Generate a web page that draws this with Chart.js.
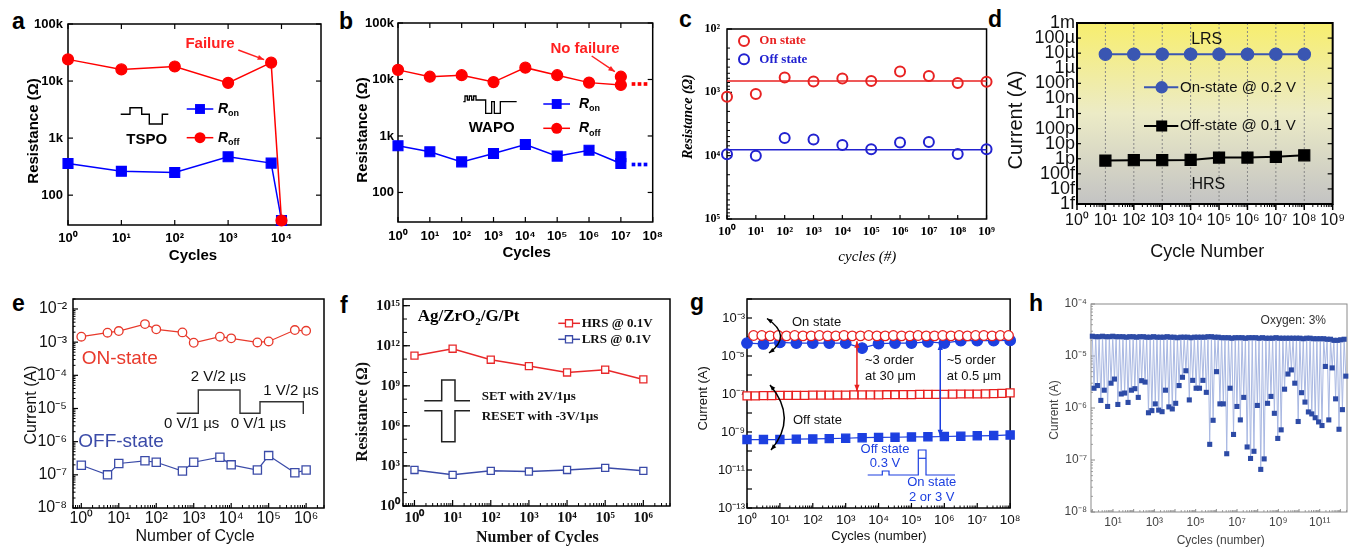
<!DOCTYPE html>
<html><head><meta charset="utf-8">
<script src="https://cdn.jsdelivr.net/npm/chart.js"></script>
<style>
html,body{margin:0;padding:0;background:#fff;}
body{width:1352px;height:548px;position:relative;overflow:hidden;}
.pn{position:absolute;}
.lt{position:absolute;font:bold 23px Arial,'Liberation Sans',sans-serif;color:#000;line-height:23px;}
</style></head><body>
<div class="lt" style="left:12px;top:10px">a</div>
<div class="lt" style="left:339px;top:10px">b</div>
<div class="lt" style="left:679px;top:8px">c</div>
<div class="lt" style="left:988px;top:8px">d</div>
<div class="lt" style="left:12px;top:292px">e</div>
<div class="lt" style="left:340px;top:294px">f</div>
<div class="lt" style="left:690px;top:291px">g</div>
<div class="lt" style="left:1029px;top:292px">h</div>
<script>
const SANS = "Arial, 'Liberation Sans', Helvetica, sans-serif";
const SERIF = "'Times New Roman', 'Liberation Serif', Times, serif";

// ===== (a) TSPO =====
const aCycles = [1, 10, 100, 1000, 6400, 10000];
const aRon  = [360, 262, 250, 470, 365, 36];
const aRoff = [24000, 16000, 18000, 9300, 21000, 36];
const aXTicks = [1, 10, 100, 1000, 10000];
const aXLabels = ['10⁰','10¹','10²','10³','10⁴'];
const aYTicks = [100, 1000, 10000, 100000];
const aYLabels = ['100','1k','10k','100k'];

// ===== (b) WAPO =====
const bCycles = [1, 10, 100, 1e3, 1e4, 1e5, 1e6, 1e7, 1e7];
const bRon  = [670, 525, 348, 490, 705, 440, 560, 325, 430];
const bRoff = [14800, 11200, 11900, 9000, 16200, 11900, 8800, 8000, 11200];
const bXTicks = [1,10,100,1e3,1e4,1e5,1e6,1e7,1e8];
const bXLabels = ['10⁰','10¹','10²','10³','10⁴','10⁵','10⁶','10⁷','10⁸'];

// ===== (c) =====
const cCycles = [1,10,1e2,1e3,1e4,1e5,1e6,1e7,1e8,1e9];
const cOn  = [1170, 1060, 585, 675, 605, 660, 470, 550, 715, 680];
const cOff = [9500, 10000, 5270, 5560, 6800, 7950, 6200, 6100, 9400, 7950];
const cFitX = [1, 1e9];
const cOnFit = [660, 660];
const cOffFit = [8100, 8100];
const cXLabels = ['10⁰','10¹','10²','10³','10⁴','10⁵','10⁶','10⁷','10⁸','10⁹'];
const cYTicks = [100, 1e3, 1e4, 1e5];
const cYLabels = ['10²','10³','10⁴','10⁵'];

// ===== (d) =====
const dCycles = [1e1,1e2,1e3,1e4,1e5,1e6,1e7,1e8];
const dOn  = [8.5e-6, 8.5e-6, 8.5e-6, 8.5e-6, 8.5e-6, 8.5e-6, 8.5e-6, 8.5e-6];
const dOff = [7.6e-13, 8e-13, 8e-13, 8.3e-13, 1.2e-12, 1.2e-12, 1.35e-12, 1.7e-12];
const dXTicks = [1,10,1e2,1e3,1e4,1e5,1e6,1e7,1e8,1e9];
const dYTicks = [1e-3,1e-4,1e-5,1e-6,1e-7,1e-8,1e-9,1e-10,1e-11,1e-12,1e-13,1e-14,1e-15];
const dYLabels = ['1m','100µ','10µ','1µ','100n','10n','1n','100p','10p','1p','100f','10f','1f'];

// ===== (e) =====
const eCycles = [1, 5, 10, 50, 100, 500, 1000, 5000, 1e4, 5e4, 1e5, 5e5, 1e6];
const eOn  = [1.46e-3, 1.93e-3, 2.16e-3, 3.5e-3, 2.43e-3, 1.97e-3, 0.96e-3, 1.46e-3, 1.3e-3, 0.98e-3, 1.05e-3, 2.32e-3, 2.2e-3];
const eOff = [1.95e-7, 1.0e-7, 2.2e-7, 2.65e-7, 2.4e-7, 1.3e-7, 2.4e-7, 3.4e-7, 2.0e-7, 1.4e-7, 3.8e-7, 1.15e-7, 1.4e-7];
const eXTicks = [1,10,100,1e3,1e4,1e5,1e6];
const eXLabels = ['10⁰','10¹','10²','10³','10⁴','10⁵','10⁶'];
const eYTicks = [1e-8,1e-7,1e-6,1e-5,1e-4,1e-3,1e-2];
const eYLabels = ['10⁻⁸','10⁻⁷','10⁻⁶','10⁻⁵','10⁻⁴','10⁻³','10⁻²'];

// ===== (f) =====
const fCycles = [1, 10, 100, 1e3, 1e4, 1e5, 1e6];
const fHRS = [1.8e11, 6e11, 9e10, 3e10, 1e10, 1.6e10, 3e9];
const fLRS = [500, 215, 430, 380, 500, 720, 430];
const fYTicks = [1, 1e3, 1e6, 1e9, 1e12, 1e15];
const fYLabels = ['10⁰','10³','10⁶','10⁹','10¹²','10¹⁵'];

// ===== (g) =====
const gRedOnExp  = [0.2,0.45,0.7,0.95,1.2,1.45,1.7,1.95,2.2,2.45,2.7,2.95,3.2,3.45,3.7,3.95,4.2,4.45,4.7,4.95,5.2,5.45,5.7,5.95,6.2,6.45,6.7,6.95,7.2,7.45,7.7,7.95];
const gRedOn = [1.2e-4,1.2e-4,1.15e-4,1.2e-4,1.15e-4,1.2e-4,1.15e-4,1.15e-4,1.2e-4,1.15e-4,1.15e-4,1.2e-4,1.15e-4,1.15e-4,1.2e-4,1.15e-4,1.15e-4,1.2e-4,1.15e-4,1.15e-4,1.2e-4,1.15e-4,1.15e-4,1.2e-4,1.15e-4,1.2e-4,1.15e-4,1.2e-4,1.2e-4,1.15e-4,1.2e-4,1.2e-4];
const gRedOffExp = [0,0.25,0.5,0.75,1,1.25,1.5,1.75,2,2.25,2.5,2.75,3,3.25,3.5,3.75,4,4.25,4.5,4.75,5,5.25,5.5,5.75,6,6.25,6.5,6.75,7,7.25,7.5,7.75,8];
const gRedOff = [8e-8,8e-8,8.2e-8,8.2e-8,8.5e-8,8.5e-8,8.5e-8,8.5e-8,8.7e-8,8.7e-8,8.7e-8,8.8e-8,8.8e-8,9e-8,9e-8,9e-8,9e-8,9.2e-8,9.2e-8,9.3e-8,9.3e-8,9.5e-8,9.5e-8,9.5e-8,9.7e-8,9.8e-8,1e-7,1e-7,1e-7,1.02e-7,1.05e-7,1.08e-7,1.15e-7];
const gBlueExp = [0,0.5,1,1.5,2,2.5,3,3.5,4,4.5,5,5.5,6,6.5,7,7.5,8];
const gBlueOn  = [4.8e-5,4.3e-5,5.2e-5,4.8e-5,4.8e-5,4.8e-5,4.8e-5,2.6e-5,4.5e-5,4.8e-5,4.8e-5,5.5e-5,4.8e-5,6.4e-5,6.4e-5,6.4e-5,6.6e-5];
const gBlueOff = [4e-10,4e-10,4e-10,4.2e-10,4.3e-10,4.5e-10,4.7e-10,5e-10,5.2e-10,5.3e-10,5.5e-10,5.6e-10,5.8e-10,6e-10,6.3e-10,6.5e-10,7e-10];
const gXTicks = [1,10,100,1e3,1e4,1e5,1e6,1e7,1e8];
const gXLabels = ['10⁰','10¹','10²','10³','10⁴','10⁵','10⁶','10⁷','10⁸'];
const gYTicks = [1e-13,1e-11,1e-9,1e-7,1e-5,1e-3];
const gYLabels = ['10⁻¹³','10⁻¹¹','10⁻⁹','10⁻⁷','10⁻⁵','10⁻³'];

// ===== (h) =====
const hStepExp = 0.1646;   // spacing of sampled cycles (decades)
const hOn = [2.4e-5,2.35e-5,2.35e-5,2.4e-5,2.35e-5,2.35e-5,2.4e-5,2.35e-5,2.35e-5,2.35e-5,
 2.3e-5,2.35e-5,2.35e-5,2.3e-5,2.35e-5,2.35e-5,2.3e-5,2.3e-5,2.35e-5,2.3e-5,
 2.3e-5,2.3e-5,2.35e-5,2.3e-5,2.3e-5,2.25e-5,2.3e-5,2.3e-5,2.3e-5,2.25e-5,
 2.3e-5,2.3e-5,2.3e-5,2.3e-5,2.35e-5,2.35e-5,2.3e-5,2.3e-5,2.25e-5,2.25e-5,
 2.25e-5,2.2e-5,2.25e-5,2.25e-5,2.25e-5,2.2e-5,2.25e-5,2.25e-5,2.25e-5,2.2e-5,
 2.25e-5,2.2e-5,2.2e-5,2.2e-5,2.25e-5,2.2e-5,2.2e-5,2.2e-5,2.2e-5,2.2e-5,
 2.2e-5,2.2e-5,2.15e-5,2.2e-5,2.2e-5,2.15e-5,2.15e-5,2.15e-5,2.15e-5,2.1e-5,
 2.1e-5,2.0e-5,2.0e-5,2.05e-5,2.1e-5];
const hOff = [2.4e-6,2.7e-6,1.4e-6,2.2e-6,1.07e-6,3.0e-6,3.6e-6,1.17e-6,1.86e-6,1.94e-6,
 1.28e-6,2.2e-6,2.35e-6,1.6e-6,3.35e-6,3.15e-6,8.1e-7,8.9e-7,1.2e-6,9.1e-7,
 8.5e-7,2.2e-6,1.05e-6,9.6e-7,1.23e-6,2.7e-6,3.9e-6,5.2e-6,1.43e-6,3.4e-6,
 2.4e-6,2.4e-6,3.4e-6,2.0e-6,2.0e-7,5.8e-7,5.0e-6,1.2e-6,1.2e-6,1.32e-7,
 2.4e-6,3.1e-7,1.07e-6,5.9e-7,1.6e-6,1.78e-7,1.07e-7,1.47e-7,1.12e-6,6.6e-8,
 1.05e-7,1.23e-6,1.67e-6,7.9e-7,2.6e-7,3.8e-7,2.3e-6,4.5e-6,5.4e-6,3.0e-6,
 5.5e-7,1.97e-6,1.3e-6,8.4e-7,7.7e-7,6.5e-7,5.4e-7,4.6e-7,6.3e-6,5.9e-7,
 5.9e-6,1.5e-6,3.9e-7,9.3e-7,4.1e-6];
const hXTicks = [10,1e3,1e5,1e7,1e9,1e11];
const hXLabels = ['10¹','10³','10⁵','10⁷','10⁹','10¹¹'];
const hYTicks = [1e-8,1e-7,1e-6,1e-5,1e-4];
const hYLabels = ['10⁻⁸','10⁻⁷','10⁻⁶','10⁻⁵','10⁻⁴'];

// ===== helpers =====
function pts(xs, ys){ return xs.map((x,i)=>({x:x, y:ys[i]})); }
function ds(xs, ys, o){ return Object.assign({data:pts(xs,ys), clip:false, tension:0, showLine:true, borderWidth:1.5, pointRadius:5, pointBorderWidth:1.2, pointHoverRadius:0}, o); }
function decades(lo, hi){ const r=[]; for(let d=Math.floor(Math.log10(lo)); d<=Math.ceil(Math.log10(hi)); d++){ const v=Math.pow(10,d); if(v>=lo*0.999 && v<=hi*1.001) r.push(v);} return r; }
function minors(lo, hi){ const r=[]; for(let d=Math.floor(Math.log10(lo)); d<=Math.ceil(Math.log10(hi)); d++){ for(let m=2;m<=9;m++){ const v=m*Math.pow(10,d); if(v>=lo && v<=hi) r.push(v);} } return r; }

function G(chart, L, T){
  const ctx = chart.ctx;
  const X = v => v - L, Y = v => v - T;
  return {
    ctx,
    dx: v => chart.scales.x.getPixelForValue(v) + L,
    dy: v => chart.scales.y.getPixelForValue(v) + T,
    text(s, x, y, font, color, align, rot, baseline){
      ctx.save(); ctx.font=font; ctx.fillStyle=color||'#000'; ctx.textAlign=align||'left'; ctx.textBaseline=baseline||'middle';
      ctx.translate(X(x), Y(y)); if(rot) ctx.rotate(rot*Math.PI/180); ctx.fillText(s,0,0); ctx.restore();
    },
    rich(parts, x, y, align){
      ctx.save(); ctx.textBaseline='middle'; ctx.textAlign='left'; let w=0;
      parts.forEach(p=>{ctx.font=p[1]; w+=ctx.measureText(p[0]).width;});
      let cx = X(x) - (align==='center'? w/2 : 0);
      parts.forEach(p=>{ctx.font=p[1]; ctx.fillStyle=p[3]||'#000'; ctx.fillText(p[0], cx, Y(y)+(p[2]||0)); cx+=ctx.measureText(p[0]).width;});
      ctx.restore();
    },
    line(x1,y1,x2,y2,color,lw,dash){
      ctx.save(); ctx.strokeStyle=color; ctx.lineWidth=lw||1; if(dash) ctx.setLineDash(dash);
      ctx.beginPath(); ctx.moveTo(X(x1),Y(y1)); ctx.lineTo(X(x2),Y(y2)); ctx.stroke(); ctx.restore();
    },
    poly(p, color, lw){
      ctx.save(); ctx.strokeStyle=color; ctx.lineWidth=lw||1; ctx.lineJoin='miter'; ctx.beginPath();
      p.forEach((q,i)=> i? ctx.lineTo(X(q[0]),Y(q[1])) : ctx.moveTo(X(q[0]),Y(q[1]))); ctx.stroke(); ctx.restore();
    },
    marker(style, x, y, r, fill, stroke, lw){
      ctx.save(); ctx.beginPath();
      if(style==='circle') ctx.arc(X(x),Y(y),r,0,Math.PI*2);
      else { const s=r*Math.SQRT1_2; ctx.rect(X(x)-s, Y(y)-s, 2*s, 2*s); }
      if(fill){ctx.fillStyle=fill; ctx.fill();}
      if(stroke){ctx.strokeStyle=stroke; ctx.lineWidth=lw||1.5; ctx.stroke();}
      ctx.restore();
    },
    head(x, y, ang, color, hl){
      ctx.save(); ctx.fillStyle=color; ctx.beginPath();
      ctx.moveTo(X(x),Y(y));
      ctx.lineTo(X(x)-hl*Math.cos(ang-0.38), Y(y)-hl*Math.sin(ang-0.38));
      ctx.lineTo(X(x)-hl*Math.cos(ang+0.38), Y(y)-hl*Math.sin(ang+0.38));
      ctx.closePath(); ctx.fill(); ctx.restore();
    },
    arrow(x1,y1,x2,y2,color,lw,hl,both){
      this.line(x1,y1,x2,y2,color,lw);
      this.head(x2,y2,Math.atan2(y2-y1,x2-x1),color,hl);
      if(both) this.head(x1,y1,Math.atan2(y1-y2,x1-x2),color,hl);
    },
    curve(x1,y1,cx,cy,x2,y2,color,lw,hl){
      ctx.save(); ctx.strokeStyle=color; ctx.lineWidth=lw; ctx.beginPath();
      ctx.moveTo(X(x1),Y(y1)); ctx.quadraticCurveTo(X(cx),Y(cy),X(x2),Y(y2)); ctx.stroke(); ctx.restore();
      this.head(x1,y1,Math.atan2(y1-cy,x1-cx),color,hl);
      this.head(x2,y2,Math.atan2(y2-cy,x2-cx),color,hl);
    }
  };
}

function makePanel(p){
  const [L,T,W,H] = p.box; const [pl,pt,pr,pb] = p.plot;
  const div = document.createElement('div'); div.className='pn';
  div.style.cssText = `left:${L}px;top:${T}px;width:${W}px;height:${H}px;`;
  const cv = document.createElement('canvas'); cv.width=W; cv.height=H; cv.style.width=W+'px'; cv.style.height=H+'px';
  div.appendChild(cv); document.body.appendChild(div);
  const mkScale = (s, isX) => ({
    type:'logarithmic', min:s.min, max:s.max, reverse:!!s.reverse, position: isX?'bottom':'left',
    grid:{display:false, drawTicks:false}, border:{display:false},
    ticks:{autoSkip:false, maxRotation:0, minRotation:0, padding:s.pad, color:s.color||'#000', font:s.font,
      callback:(v)=>{ const i=s.vals.findIndex(t=>Math.abs(Math.log10(t)-Math.log10(v))<1e-6); return i>=0? s.labels[i] : ''; }},
    afterBuildTicks:(sc)=>{ sc.ticks = s.vals.map(v=>({value:v})); },
    afterFit:(sc)=>{ if(isX) sc.height = T+H-pb; else sc.width = pl-L; }
  });
  const plugin = {
    id:'deco'+p.id,
    beforeDatasetsDraw(chart){
      const g = G(chart, L, T); const ctx = chart.ctx;
      const {left,right,top,bottom} = chart.chartArea;
      if(p.bg) p.bg(g, chart.chartArea);
      const f = p.frame; ctx.save(); ctx.strokeStyle=f.color||'#000';
      const sx = chart.scales.x, sy = chart.scales.y;
      (f.ticks||[]).forEach(t=>{
        ctx.lineWidth = t.lw || 1.2;
        t.vals.forEach(v=>{
          ctx.beginPath();
          if(t.side==='bottom'||t.side==='top'){
            const px = sx.getPixelForValue(v); if(px<left-0.5||px>right+0.5) return;
            const y0 = t.side==='bottom'? bottom : top; const dir = (t.side==='bottom'? -1:1)*(t.out?-1:1);
            ctx.moveTo(px,y0); ctx.lineTo(px,y0+dir*t.len);
          } else {
            const py = sy.getPixelForValue(v); if(py<top-0.5||py>bottom+0.5) return;
            const x0 = t.side==='left'? left : right; const dir = (t.side==='left'? 1:-1)*(t.out?-1:1);
            ctx.moveTo(x0,py); ctx.lineTo(x0+dir*t.len,py);
          }
          ctx.stroke();
        });
      });
      ctx.lineWidth = f.lw; ctx.strokeRect(left,top,right-left,bottom-top);
      ctx.restore();
    },
    afterDatasetsDraw(chart){ if(p.deco) p.deco(G(chart, L, T)); }
  };
  return new Chart(cv, {
    type:'line',
    data:{datasets:p.datasets},
    options:{
      responsive:false, maintainAspectRatio:false, animation:false, devicePixelRatio:1,
      events:[],
      layout:{autoPadding:false, padding:{left:0, top:pt-T, right:L+W-pr, bottom:0}},
      plugins:{legend:{display:false}, tooltip:{enabled:false}},
      scales:{x:mkScale(p.x,true), y:mkScale(p.y,false)}
    },
    plugins:[plugin]
  });
}

const bold = (sz,fam)=>({family:fam||SANS, size:sz, weight:'bold'});
const reg = (sz,fam)=>({family:fam||SANS, size:sz, weight:'normal'});
const BLUE='#0000ff', RED='#ff0000';

// ---------- (a) ----------
makePanel({id:'a', box:[0,0,335,270], plot:[68,24,321,225],
  x:{min:1, max:5.5e4, vals:aXTicks, labels:aXLabels, font:bold(13), pad:6},
  y:{min:30, max:1e5, vals:aYTicks, labels:aYLabels, font:bold(13), pad:5},
  frame:{lw:1.5, ticks:[
    {side:'bottom', vals:aXTicks, len:5},{side:'top', vals:aXTicks, len:5},
    {side:'left', vals:aYTicks, len:5},{side:'right', vals:aYTicks, len:5}]},
  datasets:[
    ds(aCycles, aRoff, {borderColor:RED, pointStyle:'circle', pointRadius:5.5, pointBackgroundColor:RED, pointBorderColor:RED}),
    ds(aCycles, aRon, {borderColor:BLUE, pointStyle:'rect', pointRadius:7, pointBackgroundColor:BLUE, pointBorderColor:BLUE}),
  ],
  deco:(g)=>{
    g.text('Resistance (Ω)', 34, 131, `bold 15px ${SANS}`, '#000', 'center', -90);
    g.text('Cycles', 193, 256, `bold 15px ${SANS}`, '#000', 'center');
    g.line(186.7,109,213.3,109,BLUE,1.5); g.marker('rect',200,109,7,BLUE);
    g.rich([['R',`italic bold 14px ${SANS}`],['on',`bold 9px ${SANS}`,5]], 218, 109);
    g.line(186.7,137.7,213.3,137.7,RED,1.5); g.marker('circle',200,137.7,5.5,RED);
    g.rich([['R',`italic bold 14px ${SANS}`],['off',`bold 9px ${SANS}`,5]], 218, 137.7);
    g.poly([[120.7,114.3],[130,114.3],[130,107.7],[141.7,107.7],[141.7,114.3],[149.3,114.3],[149.3,124],[162.3,124],[162.3,114.3],[168.3,114.3]], '#000', 1.4);
    g.text('TSPO', 146.7, 140, `bold 15px ${SANS}`, '#000', 'center');
    g.text('Failure', 210, 43.5, `bold 15px ${SANS}`, '#ff2020', 'center');
    g.arrow(238.3, 50, g.dx(6400)-7, g.dy(21000)-3, '#ff2020', 1.5, 7);
  }
});

// ---------- (b) ----------
makePanel({id:'b', box:[335,0,335,270], plot:[398,23,656,222],
  x:{min:1, max:1e8, vals:bXTicks, labels:bXLabels, font:bold(13), pad:7},
  y:{min:30, max:1e5, vals:aYTicks, labels:aYLabels, font:bold(13), pad:4},
  frame:{lw:1.5, ticks:[
    {side:'bottom', vals:bXTicks, len:5},{side:'top', vals:bXTicks, len:5},
    {side:'left', vals:aYTicks, len:5},{side:'right', vals:aYTicks, len:5}]},
  datasets:[
    ds(bCycles, bRoff, {borderColor:RED, pointStyle:'circle', pointRadius:5.5, pointBackgroundColor:RED, pointBorderColor:RED}),
    ds(bCycles, bRon, {borderColor:BLUE, pointStyle:'rect', pointRadius:7, pointBackgroundColor:BLUE, pointBorderColor:BLUE}),
  ],
  deco:(g)=>{
    g.text('Resistance (Ω)', 363.3, 130, `bold 15px ${SANS}`, '#000', 'center', -90);
    g.text('Cycles', 526.7, 253, `bold 15px ${SANS}`, '#000', 'center');
    g.line(543.3,104,570,104,BLUE,1.5); g.marker('rect',556.7,104,7,BLUE);
    g.rich([['R',`italic bold 14px ${SANS}`],['on',`bold 9px ${SANS}`,5]], 579, 104);
    g.line(543.3,128.3,570,128.3,RED,1.5); g.marker('circle',556.7,128.3,5.5,RED);
    g.rich([['R',`italic bold 14px ${SANS}`],['off',`bold 9px ${SANS}`,5]], 579, 128.3);
    const bx = v=>335+v/3, by = v=>v/3;
    g.poly([[385,305],[390,305],[390,288],[397,288],[397,300],[403,300],[403,288],[410,288],[410,300],[416,300],[416,288],[423,288],[423,300],[452,300],[452,340],[470,340],[470,305],[478,305],[478,340],[496,340],[496,305],[545,305]].map(q=>[bx(q[0]),by(q[1])]), '#000', 1.3);
    g.text('WAPO', 491.7, 127.7, `bold 15px ${SANS}`, '#000', 'center');
    g.text('No failure', 585, 48.5, `bold 15px ${SANS}`, '#ff2020', 'center');
    g.arrow(591.7, 56, g.dx(1e7)-6, g.dy(11200)-5, '#ff2020', 1.5, 7);
    [633.5,639.5,645.5].forEach(x=>{ g.marker('rect', x, 84, 2.6, RED); g.marker('rect', x, 164.5, 2.6, BLUE); });
  }
});

// ---------- (c) ----------
const cRed='#e82222', cBlue='#2222d0';
makePanel({id:'c', box:[670,0,330,270], plot:[727,29,992,219],
  x:{min:1, max:1e9, vals:cCycles, labels:cXLabels, font:bold(13,SERIF), pad:5},
  y:{min:100, max:1e5, reverse:true, vals:cYTicks, labels:cYLabels, font:bold(12,SERIF), pad:7},
  frame:{lw:1.5, ticks:[
    {side:'bottom', vals:cCycles, len:4},
    {side:'left', vals:cYTicks, len:5},{side:'left', vals:minors(100,1e5), len:3, lw:1}]},
  datasets:[
    ds(cCycles, cOn, {showLine:false, borderColor:cRed, pointStyle:'circle', pointRadius:5, pointBorderWidth:2, pointBackgroundColor:'rgba(0,0,0,0)', pointBorderColor:cRed}),
    ds(cCycles, cOff, {showLine:false, borderColor:cBlue, pointStyle:'circle', pointRadius:5, pointBorderWidth:2, pointBackgroundColor:'rgba(0,0,0,0)', pointBorderColor:cBlue}),
    ds(cFitX, cOnFit, {borderColor:cRed, pointRadius:0, borderWidth:1.5}),
    ds(cFitX, cOffFit, {borderColor:cBlue, pointRadius:0, borderWidth:1.5}),
  ],
  deco:(g)=>{
    g.text('Resistance (Ω)', 688.3, 116.7, `italic bold 14px ${SERIF}`, '#000', 'center', -90);
    g.text('cycles (#)', 867.3, 256.7, `italic 15px ${SERIF}`, '#000', 'center');
    g.marker('circle',744,41,5,null,cRed,2); g.text('On state', 759.3, 41, `bold 13px ${SERIF}`, cRed);
    g.marker('circle',744,59.3,5,null,cBlue,2); g.text('Off state', 759.3, 59.3, `bold 13px ${SERIF}`, cBlue);
  }
});

// ---------- (d) ----------
const dBlue='#3a56b2';
makePanel({id:'d', box:[1000,0,352,270], plot:[1077,23,1338,204],
  x:{min:1, max:1e9, vals:dXTicks, labels:['10⁰','10¹','10²','10³','10⁴','10⁵','10⁶','10⁷','10⁸','10⁹'], font:reg(16), pad:7, color:'#111'},
  y:{min:1e-15, max:1e-3, vals:dYTicks, labels:dYLabels, font:reg(18), pad:2, color:'#111'},
  bg:(g, ca)=>{
    const ctx=g.ctx; const gr = ctx.createLinearGradient(0,ca.top,0,ca.bottom);
    gr.addColorStop(0,'#f7ee6e'); gr.addColorStop(0.5,'#ecebc6'); gr.addColorStop(1,'#c3c3c3');
    ctx.save(); ctx.fillStyle=gr; ctx.fillRect(ca.left,ca.top,ca.right-ca.left,ca.bottom-ca.top);
    ctx.strokeStyle='#888'; ctx.lineWidth=1; ctx.setLineDash([2,2]);
    dCycles.forEach(v=>{ const x = g.dx(v)-1000; ctx.beginPath(); ctx.moveTo(x,ca.top); ctx.lineTo(x,ca.bottom); ctx.stroke(); });
    ctx.restore();
  },
  frame:{lw:2, ticks:[
    {side:'bottom', vals:dXTicks, len:6, out:true, lw:1.5},{side:'bottom', vals:minors(1,1e9), len:3, out:true, lw:1},
    {side:'left', vals:dYTicks, len:4, lw:1.2},{side:'right', vals:dYTicks, len:5, lw:1.2}]},
  datasets:[
    ds(dCycles, dOn, {borderColor:dBlue, borderWidth:2, pointStyle:'circle', pointRadius:6.2, pointBackgroundColor:dBlue, pointBorderColor:dBlue}),
    ds(dCycles, dOff, {borderColor:'#000', borderWidth:2, pointStyle:'rect', pointRadius:7.8, pointBackgroundColor:'#000', pointBorderColor:'#000'}),
  ],
  deco:(g)=>{
    g.text('Current (A)', 1016.7, 120, `20px ${SANS}`, '#111', 'center', -90);
    g.text('Cycle Number', 1207.3, 252.3, `18px ${SANS}`, '#111', 'center');
    g.text('LRS', 1206.7, 40, `16px ${SANS}`, '#111', 'center');
    g.text('HRS', 1208.3, 185, `16px ${SANS}`, '#111', 'center');
    g.line(1144,87.3,1178.3,87.3,dBlue,2); g.marker('circle',1161.7,87.3,6.2,dBlue);
    g.text('On-state @ 0.2 V', 1180, 87.5, `15px ${SANS}`, '#111');
    g.line(1144,126,1178.3,126,'#000',2); g.marker('rect',1161.7,126,7.8,'#000');
    g.text('Off-state @ 0.1 V', 1180, 126.2, `15px ${SANS}`, '#111');
  }
});

// ---------- (e) ----------
const eRed='#e8392b', eBlue='#3b4ba8';
makePanel({id:'e', box:[0,270,335,278], plot:[73,299,324,508],
  x:{min:0.6, max:3e6, vals:eXTicks, labels:eXLabels, font:reg(16), pad:1, color:'#111'},
  y:{min:1e-8, max:0.02, vals:eYTicks, labels:eYLabels, font:reg(16), pad:6, color:'#111'},
  frame:{lw:1.5, ticks:[
    {side:'bottom', vals:eXTicks, len:5},{side:'bottom', vals:minors(0.6,3e6), len:3, lw:1},
    {side:'left', vals:eYTicks, len:5},{side:'left', vals:minors(1e-8,0.02), len:2.5, lw:1}]},
  datasets:[
    ds(eCycles, eOn, {borderColor:eRed, borderWidth:1.2, pointStyle:'circle', pointRadius:4.3, pointBorderWidth:1.3, pointBackgroundColor:'#fff', pointBorderColor:eRed}),
    ds(eCycles, eOff, {borderColor:eBlue, borderWidth:1.2, pointStyle:'rect', pointRadius:5.8, pointBorderWidth:1.3, pointBackgroundColor:'#fff', pointBorderColor:eBlue}),
  ],
  deco:(g)=>{
    g.text('Current (A)', 31.7, 405, `16px ${SANS}`, '#111', 'center', -90);
    g.text('Number of Cycle', 195, 536.7, `16px ${SANS}`, '#111', 'center');
    g.text('ON-state', 81.7, 358.3, `19px ${SANS}`, eRed);
    g.text('OFF-state', 78.3, 441.7, `19px ${SANS}`, eBlue);
    g.poly([[176.7,413.3],[198.3,413.3],[198.3,390],[240,390],[240,413.3],[260,413.3],[260,401.7],[303.3,401.7],[303.3,414]], '#333', 1.4);
    g.text('2 V/2 µs', 218.3, 377.3, `15px ${SANS}`, '#111', 'center');
    g.text('1 V/2 µs', 291, 390.7, `15px ${SANS}`, '#111', 'center');
    g.text('0 V/1 µs', 191.7, 424, `15px ${SANS}`, '#111', 'center');
    g.text('0 V/1 µs', 258.3, 424, `15px ${SANS}`, '#111', 'center');
  }
});

// ---------- (f) ----------
const fRed='#e8282a', fBlue='#3a4aa8';
makePanel({id:'f', box:[335,270,340,278], plot:[403,299,670,506],
  x:{min:0.5, max:5e6, vals:fCycles, labels:eXLabels, font:bold(15,SERIF), pad:3, color:'#111'},
  y:{min:1, max:3.16e15, vals:fYTicks, labels:fYLabels, font:bold(15,SERIF), pad:3, color:'#111'},
  frame:{lw:1.5, ticks:[
    {side:'bottom', vals:fCycles, len:6},{side:'bottom', vals:minors(0.5,5e6), len:3, lw:1},
    {side:'left', vals:fYTicks, len:7},{side:'left', vals:decades(1,3.16e15), len:4, lw:1}]},
  datasets:[
    ds(fCycles, fHRS, {borderColor:fRed, borderWidth:1.5, pointStyle:'rect', pointRadius:5, pointBorderWidth:1.3, pointBackgroundColor:'#fff', pointBorderColor:fRed}),
    ds(fCycles, fLRS, {borderColor:fBlue, borderWidth:1.5, pointStyle:'rect', pointRadius:5, pointBorderWidth:1.3, pointBackgroundColor:'#fff', pointBorderColor:fBlue}),
  ],
  deco:(g)=>{
    g.text('Resistance (Ω)', 363.3, 411.7, `bold 16px ${SERIF}`, '#111', 'center', -90);
    g.text('Number of Cycles', 537.3, 538, `bold 16px ${SERIF}`, '#111', 'center');
    g.rich([['Ag/ZrO',`bold 17px ${SERIF}`],['2',`bold 11px ${SERIF}`,5],['/G/Pt',`bold 17px ${SERIF}`]], 417.7, 316.7);
    g.line(558.3,323.3,580,323.3,fRed,1.5); g.marker('rect',569,323.3,5,'#fff',fRed,1.3);
    g.text('HRS @ 0.1V', 581.7, 323.5, `bold 13px ${SERIF}`, '#111');
    g.line(558.3,339.3,580,339.3,fBlue,1.5); g.marker('rect',569,339.3,5,'#fff',fBlue,1.3);
    g.text('LRS @ 0.1V', 581.7, 339.5, `bold 13px ${SERIF}`, '#111');
    g.poly([[424.3,400.7],[441.7,400.7],[441.7,380],[455,380],[455,400.7],[470,400.7]], '#222', 1.5);
    g.poly([[424.3,410.7],[441.7,410.7],[441.7,441.7],[455,441.7],[455,410.7],[470,410.7]], '#222', 1.5);
    g.text('SET with 2V/1µs', 481.7, 396.7, `bold 13px ${SERIF}`, '#111');
    g.text('RESET with -3V/1µs', 481.7, 416.7, `bold 13px ${SERIF}`, '#111');
  }
});

// ---------- (g) ----------
const gRed='#e8201f', gBlue='#1c3fe0';
const p10 = e => Math.pow(10, e);
makePanel({id:'g', box:[675,270,350,278], plot:[747,299,1013,508],
  x:{min:1, max:1e8, vals:gXTicks, labels:gXLabels, font:reg(13.5), pad:4.5, color:'#111'},
  y:{min:1e-13, max:1e-2, vals:gYTicks, labels:gYLabels, font:reg(13), pad:2, color:'#111'},
  frame:{lw:1.5, ticks:[
    {side:'bottom', vals:gXTicks, len:5},{side:'bottom', vals:minors(1,1e8), len:2.5, lw:1},
    {side:'left', vals:decades(1e-13,1e-2), len:5}]},
  datasets:[
    ds(gRedOnExp.map(p10), gRedOn, {borderColor:gRed, borderWidth:1, pointStyle:'circle', pointRadius:4.8, pointBorderWidth:1.3, pointBackgroundColor:'#fff', pointBorderColor:gRed}),
    ds(gBlueExp.map(p10), gBlueOn, {borderColor:gBlue, borderWidth:1.2, pointStyle:'circle', pointRadius:5.3, pointBackgroundColor:gBlue, pointBorderColor:gBlue}),
    ds(gRedOffExp.map(p10), gRedOff, {borderColor:gRed, borderWidth:1, pointStyle:'rect', pointRadius:5.6, pointBorderWidth:1.3, pointBackgroundColor:'#fff', pointBorderColor:gRed}),
    ds(gBlueExp.map(p10), gBlueOff, {borderColor:gBlue, borderWidth:1.2, pointStyle:'rect', pointRadius:5.8, pointBackgroundColor:gBlue, pointBorderColor:gBlue}),
  ],
  deco:(g)=>{
    g.text('Current (A)', 703.3, 398.3, `13px ${SANS}`, '#111', 'center', -90);
    g.text('Cycles (number)', 879, 536.7, `13px ${SANS}`, '#111', 'center');
    g.text('On state', 792, 322.7, `13px ${SANS}`, '#111');
    g.text('Off state', 793, 420.7, `13px ${SANS}`, '#111');
    g.curve(767,318.5, 793,336, 769,353, '#000', 1.5, 6);
    g.curve(770,385, 798,418, 771,450, '#000', 1.5, 6);
    g.arrow(g.dx(2200), g.dy(6e-5), g.dx(2200), g.dy(1.4e-7), gRed, 1.5, 7, true);
    g.text('~3 order', 865, 360, `13px ${SANS}`, '#111');
    g.text('at 30 μm', 865, 376.7, `13px ${SANS}`, '#111');
    g.arrow(g.dx(7.5e5), g.dy(4.5e-5), g.dx(7.5e5), g.dy(6e-10), gBlue, 1.5, 7, true);
    g.text('~5 order', 946.7, 360, `13px ${SANS}`, '#111');
    g.text('at 0.5 μm', 946.7, 376.7, `13px ${SANS}`, '#111');
    g.poly([[867.7,475],[882.3,475],[882.3,471],[889,471],[889,475],[918.3,475],[918.3,450],[926,450],[926,475],[955,475]], gBlue, 1.2);
    g.line(918.3,458.3,926,458.3,gBlue,1.2);
    g.text('Off state', 885, 449, `13px ${SANS}`, gBlue, 'center');
    g.text('0.3 V', 885, 463.3, `13px ${SANS}`, gBlue, 'center');
    g.text('On state', 931.7, 482.3, `13px ${SANS}`, gBlue, 'center');
    g.text('2 or 3 V', 931.7, 497.7, `13px ${SANS}`, gBlue, 'center');
  }
});

// ---------- (h) ----------
const hPts = [];
hOn.forEach((v,k)=>{ hPts.push({x:p10(k*hStepExp), y:v}); hPts.push({x:p10(k*hStepExp+hStepExp/2), y:hOff[k]}); });
makePanel({id:'h', box:[1025,270,327,278], plot:[1091,304,1347,512],
  x:{min:0.863, max:2.09e12, vals:hXTicks, labels:hXLabels, font:reg(12), pad:3, color:'#444'},
  y:{min:1e-8, max:1e-4, vals:hYTicks, labels:hYLabels, font:reg(12), pad:4, color:'#444'},
  frame:{lw:1, color:'#8a8a8a', ticks:[
    {side:'bottom', vals:decades(1,2e12), len:3, lw:1},{side:'bottom', vals:minors(0.863,2.09e12), len:2, lw:0.8},
    {side:'left', vals:hYTicks, len:4, lw:1},{side:'left', vals:minors(1e-8,1e-4), len:2, lw:0.8}]},
  datasets:[
    {data:hPts, clip:false, tension:0, showLine:true, borderColor:'#a9b8e2', borderWidth:1, pointStyle:'rect', pointRadius:3.6, pointBorderWidth:0, pointBackgroundColor:'#2d4ba6', pointBorderColor:'#2d4ba6', pointHoverRadius:0}
  ],
  deco:(g)=>{
    g.text('Current (A)', 1054.3, 410, `12px ${SANS}`, '#444', 'center', -90);
    g.text('Cycles (number)', 1220.7, 541, `12px ${SANS}`, '#444', 'center');
    g.text('Oxygen: 3%', 1293.3, 320.7, `12px ${SANS}`, '#333', 'center');
  }
});
</script>
</body></html>
